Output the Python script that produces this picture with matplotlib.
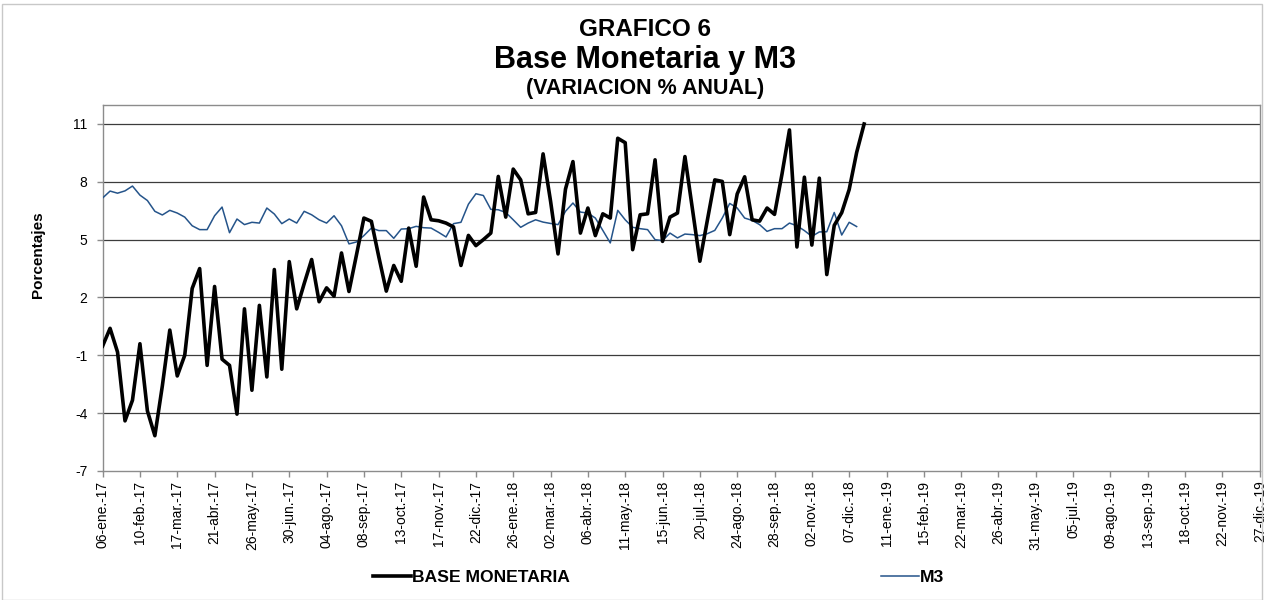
import matplotlib
matplotlib.use("Agg")
import matplotlib.pyplot as plt
import numpy as np
import pandas as pd
from matplotlib.patches import Rectangle
from matplotlib.lines import Line2D

plt.rcParams['font.family'] = ['Liberation Sans', 'DejaVu Sans']

# ---------------- data ----------------
start_date = "2017-01-06"
end_date = "2019-12-27"

base_monetaria = [
    -0.52, 0.40, -0.83, -4.40, -3.33, -0.40, -3.88, -5.17, -2.59, 0.31,
    -2.07, -1.00, 2.47, 3.50, -1.52, 2.57, -1.20, -1.52, -4.05, 1.41,
    -2.81, 1.59, -2.12, 3.45, -1.72, 3.86, 1.41, 2.72, 3.97, 1.78,
    2.50, 2.07, 4.31, 2.31, 4.20, 6.12, 5.95, 4.10, 2.33, 3.66,
    2.84, 5.60, 3.62, 7.21, 6.03, 5.98, 5.86, 5.66, 3.66, 5.22,
    4.69, 5.00, 5.34, 8.28, 6.17, 8.66, 8.10, 6.34, 6.41, 9.45,
    7.00, 4.26, 7.62, 9.05, 5.34, 6.64, 5.21, 6.34, 6.12, 10.26,
    10.03, 4.48, 6.29, 6.34, 9.14, 4.91, 6.17, 6.38, 9.31, 6.60,
    3.88, 6.00, 8.10, 8.02, 5.26, 7.37, 8.26, 6.03, 5.96, 6.64,
    6.31, 8.40, 10.69, 4.62, 8.24, 4.72, 8.19, 3.19, 5.74, 6.40,
    7.60, 9.52, 11.00,
]

m3 = [
    7.16, 7.52, 7.41, 7.53, 7.78, 7.31, 7.03, 6.47, 6.28, 6.52,
    6.38, 6.17, 5.72, 5.52, 5.52, 6.24, 6.69, 5.36, 6.07, 5.78,
    5.90, 5.86, 6.64, 6.33, 5.83, 6.07, 5.86, 6.47, 6.29, 6.03,
    5.86, 6.24, 5.72, 4.78, 4.88, 5.21, 5.60, 5.47, 5.47, 5.07,
    5.55, 5.57, 5.69, 5.62, 5.60, 5.38, 5.14, 5.83, 5.90, 6.84,
    7.38, 7.29, 6.57, 6.55, 6.41, 6.03, 5.64, 5.86, 6.03, 5.91,
    5.84, 5.78, 6.47, 6.90, 6.43, 6.38, 6.12, 5.48, 4.83, 6.52,
    6.03, 5.64, 5.57, 5.52, 5.00, 4.95, 5.34, 5.09, 5.29, 5.26,
    5.21, 5.31, 5.48, 6.12, 6.88, 6.64, 6.12, 6.00, 5.78, 5.43,
    5.57, 5.57, 5.86, 5.72, 5.47, 5.17, 5.40, 5.41, 6.41, 5.24,
    5.90, 5.68,
]

tick_labels = [
    "06-ene.-17", "10-feb.-17", "17-mar.-17", "21-abr.-17", "26-may.-17",
    "30-jun.-17", "04-ago.-17", "08-sep.-17", "13-oct.-17", "17-nov.-17",
    "22-dic.-17", "26-ene.-18", "02-mar.-18", "06-abr.-18", "11-may.-18",
    "15-jun.-18", "20-jul.-18", "24-ago.-18", "28-sep.-18", "02-nov.-18",
    "07-dic.-18", "11-ene.-19", "15-feb.-19", "22-mar.-19", "26-abr.-19",
    "31-may.-19", "05-jul.-19", "09-ago.-19", "13-sep.-19", "18-oct.-19",
    "22-nov.-19", "27-dic.-19",
]

y_ticks = [-7, -4, -1, 2, 5, 8, 11]

# ---------------- figure ----------------
W, H = 1265, 600
fig = plt.figure(figsize=(W / 100, H / 100), dpi=100)
fig.patch.set_facecolor("white")

left_px, right_px, top_px, bot_px = 102.6, 1259.8, 104.7, 471.0
ax = fig.add_axes([left_px / W, 1 - bot_px / H,
                   (right_px - left_px) / W, (bot_px - top_px) / H])

dates_bm = pd.date_range(start_date, periods=len(base_monetaria), freq="7D")
dates_m3 = pd.date_range(start_date, periods=len(m3), freq="7D")
tick_dates = pd.date_range(start_date, periods=len(tick_labels), freq="35D")

blue = "#25548a"
ax.plot(dates_m3, m3, color=blue, lw=1.1, zorder=3)
ax.plot(dates_bm, base_monetaria, color="black", lw=2.6, zorder=4)

ax.set_xlim(pd.Timestamp(start_date), pd.Timestamp(end_date))
ax.set_ylim(-7, 12)
ax.set_yticks(y_ticks)
ax.set_yticklabels([str(v) for v in y_ticks], fontsize=10)
ax.set_xticks(tick_dates)
ax.set_xticklabels(tick_labels, rotation=90, fontsize=10)

for v in y_ticks[1:]:
    ax.axhline(v, color="#3c3c3c", lw=0.9, zorder=1)

for s in ax.spines.values():
    s.set_color("#8c8c8c")
    s.set_linewidth(1.0)

ax.tick_params(axis="both", direction="out", length=4, color="#8c8c8c", width=1)
ax.tick_params(axis="x", pad=3)
ax.tick_params(axis="y", pad=7)

ax.set_ylabel("Porcentajes", fontsize=11, fontweight="bold")
ax.yaxis.set_label_coords(-0.0498, 0.59)

# ---------------- titles ----------------
cx = 645 / W
fig.text(cx, 1 - 30 / H, "GRAFICO 6", ha="center", va="center",
         fontsize=17.5, fontweight="bold")
fig.text(cx, 1 - 60 / H, "Base Monetaria y M3", ha="center", va="center",
         fontsize=22, fontweight="bold")
fig.text(cx, 1 - 88 / H, "(VARIACION % ANUAL)", ha="center", va="center",
         fontsize=15.5, fontweight="bold")

# ---------------- legend ----------------
h_bm = Line2D([], [], color="black", lw=2.6)
h_m3 = Line2D([], [], color=blue, lw=1.1)
fig.legend([h_bm], ["BASE MONETARIA"], loc="center left",
           bbox_to_anchor=(364 / W, 1 - 577 / H), frameon=False,
           borderpad=0, handlelength=2.2, handletextpad=0.02,
           prop={"weight": "bold", "size": 12.6})
fig.legend([h_m3], ["M3"], loc="center left",
           bbox_to_anchor=(872 / W, 1 - 577 / H), frameon=False,
           borderpad=0, handlelength=2.2, handletextpad=0.05,
           prop={"weight": "bold", "size": 12.6})

# outer border of chart
fig.patches.append(Rectangle((2 / W, 0), (1262 - 2) / W, 1 - 4 / H,
                             transform=fig.transFigure, fill=False,
                             edgecolor="#c8c8c8", lw=1.0))

fig.savefig("out.png", dpi=100)
